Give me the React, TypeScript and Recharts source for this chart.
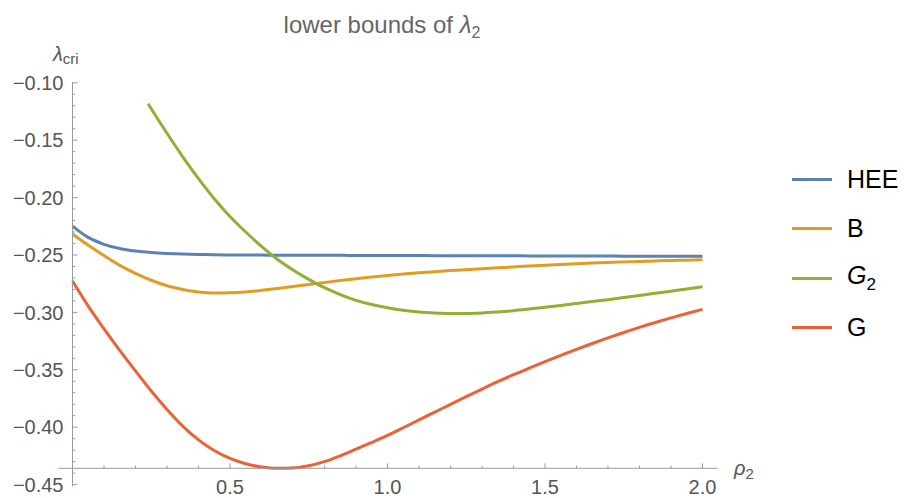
import { LineChart, Line, XAxis, YAxis, Legend, ReferenceLine } from "recharts"

// rho_2 sample points shared by HEE, B and G
const RHO = [
  0, 0.05, 0.1, 0.15, 0.2, 0.25, 0.3, 0.35, 0.4, 0.45, 0.5, 0.55, 0.6, 0.65, 0.7, 0.75, 0.8, 0.85, 0.9, 0.95,
  1.0, 1.05, 1.1, 1.15, 1.2, 1.25, 1.3, 1.35, 1.4, 1.45, 1.5, 1.55, 1.6, 1.65, 1.7, 1.75, 1.8, 1.85, 1.9, 1.95, 2.0,
]

const HEE = [
  -0.2248, -0.2347, -0.2407, -0.2444, -0.2466, -0.2479, -0.2487, -0.2492, -0.2495, -0.2498, -0.25, -0.2501, -0.2501,
  -0.2502, -0.2502, -0.2503, -0.2503, -0.2503, -0.2504, -0.2504, -0.2505, -0.2505, -0.2505, -0.2506, -0.2506, -0.2506,
  -0.2507, -0.2507, -0.2507, -0.2508, -0.2508, -0.2508, -0.2509, -0.2509, -0.2509, -0.251, -0.251, -0.251, -0.2511,
  -0.2511, -0.2512,
]

const B = [
  -0.2317, -0.2415, -0.2505, -0.259, -0.266, -0.272, -0.2768, -0.28, -0.2822, -0.2832, -0.283, -0.2822, -0.2808,
  -0.2792, -0.2775, -0.2757, -0.274, -0.2723, -0.2707, -0.2692, -0.2678, -0.2666, -0.2655, -0.2645, -0.2636, -0.2628,
  -0.262, -0.2612, -0.2604, -0.2596, -0.2589, -0.2582, -0.2576, -0.257, -0.2565, -0.256, -0.2556, -0.2552, -0.2548,
  -0.2545, -0.2542,
]

const G = [
  -0.2726, -0.2945, -0.3143, -0.333, -0.351, -0.3685, -0.3845, -0.399, -0.411, -0.4203, -0.4272, -0.4318, -0.4346,
  -0.4358, -0.4355, -0.4336, -0.43, -0.425, -0.4192, -0.4133, -0.4072, -0.4005, -0.3937, -0.3869, -0.3801, -0.3734,
  -0.3668, -0.3604, -0.3543, -0.3485, -0.3429, -0.3375, -0.3322, -0.3271, -0.3222, -0.3175, -0.313, -0.3088, -0.3048,
  -0.301, -0.2974,
]

// G2 only starts around rho = 0.24
const G2_RHO = [
  0.24, 0.25, 0.3, 0.35, 0.4, 0.45, 0.5, 0.55, 0.6, 0.65, 0.7, 0.75, 0.8, 0.85, 0.9, 0.95, 1.0, 1.05, 1.1, 1.15,
  1.2, 1.25, 1.3, 1.35, 1.4, 1.45, 1.5, 1.55, 1.6, 1.65, 1.7, 1.75, 1.8, 1.85, 1.9, 1.95, 2.0,
]
const G2 = [
  -0.1182, -0.1226, -0.144, -0.1645, -0.1835, -0.201, -0.2165, -0.23, -0.2425, -0.2537, -0.263, -0.2712, -0.2785,
  -0.2845, -0.2895, -0.2932, -0.296, -0.2982, -0.2997, -0.3005, -0.3009, -0.3009, -0.3005, -0.2996, -0.2985, -0.2971,
  -0.2956, -0.294, -0.2923, -0.2906, -0.2889, -0.2871, -0.2853, -0.2834, -0.2815, -0.2796, -0.2777,
]

const SERIES_NAMES = ["HEE", "B", "G2", "G"]
const COLORS = ["#5e81b5", "#e19c24", "#8fb032", "#eb6235"]

const X_MAJOR = [0.5, 1.0, 1.5, 2.0]
const X_MINOR = [0.1, 0.2, 0.3, 0.4, 0.6, 0.7, 0.8, 0.9, 1.1, 1.2, 1.3, 1.4, 1.6, 1.7, 1.8, 1.9]
const Y_MAJOR = [-0.45, -0.4, -0.35, -0.3, -0.25, -0.2, -0.15, -0.1]

// minor y ticks every 0.01 between the majors
const Y_MINOR: number[] = []
for (let k = -45; k <= -10; k++) {
  if (k % 5 !== 0) Y_MINOR.push(k / 100)
}

const X_DOMAIN = [0, 2.048]
const Y_DOMAIN = [-0.4358, -0.0995]
const X_AXIS_START = -0.045
const Y_AXIS_END = -0.4515

const AXIS = "#9a9a9a"
const LABEL = "#555555"
const FONT = "'Liberation Sans', Arial, Helvetica, sans-serif"

const toRows = (xs: number[], ys: number[]) => xs.map((rho, i) => ({ rho, v: ys[i] }))

const series = [
  { name: SERIES_NAMES[0], color: COLORS[0], data: toRows(RHO, HEE) },
  { name: SERIES_NAMES[1], color: COLORS[1], data: toRows(RHO, B) },
  { name: SERIES_NAMES[2], color: COLORS[2], data: toRows(G2_RHO, G2) },
  { name: SERIES_NAMES[3], color: COLORS[3], data: toRows(RHO, G) },
]

const XTick = (props: any) => {
  const { x, y, payload } = props
  const major = X_MAJOR.includes(payload.value)
  return (
    <g>
      <line x1={x} x2={x} y1={y} y2={y - (major ? 5 : 2.7)} stroke={AXIS} />
      {major && (
        <text x={x} y={y + 26} textAnchor="middle" fontSize={20} fill={LABEL} fontFamily={FONT}>
          {payload.value.toFixed(1)}
        </text>
      )}
    </g>
  )
}

const YTick = (props: any) => {
  const { x, y, payload } = props
  const major = Y_MAJOR.some((m) => Math.abs(m - payload.value) < 1e-9)
  return (
    <g>
      <line x1={x} x2={x + (major ? 5 : 2.7)} y1={y} y2={y} stroke={AXIS} />
      {major && (
        <text x={x - 9} y={y} dy="0.36em" textAnchor="end" fontSize={20} fill={LABEL} fontFamily={FONT}>
          {"\u2212" + Math.abs(payload.value).toFixed(2)}
        </text>
      )}
    </g>
  )
}

const legendLabel = (name: string) => {
  if (name === "G2") {
    return (
      <span>
        <i>G</i>
        <sub style={{ fontSize: 17 }}>2</sub>
      </span>
    )
  }
  return <span>{name}</span>
}

// keep the legend in plotting order rather than alphabetical
const renderLegend = ({ payload }: any) => {
  const items = [...(payload || [])].sort(
    (a: any, b: any) => SERIES_NAMES.indexOf(a.value) - SERIES_NAMES.indexOf(b.value)
  )
  return (
    <div>
      {items.map((entry: any) => (
        <div key={entry.value} style={{ display: "flex", alignItems: "center", height: 49.5 }}>
          <span style={{ display: "inline-block", width: 40, height: 3, background: entry.color }} />
          <span style={{ marginLeft: 15, fontSize: 25, color: "#000", fontFamily: FONT, lineHeight: 1 }}>
            {legendLabel(entry.value)}
          </span>
        </div>
      ))}
    </div>
  )
}

export default function App() {
  return (
    <div style={{ position: "absolute", left: 0, top: 0, width: 904, height: 498, background: "#fff", fontFamily: FONT }}>
      <LineChart width={904} height={498} margin={{ top: 82.2, right: 186.4, bottom: 9.7, left: 12.5 }}>
        <XAxis
          type="number"
          dataKey="rho"
          domain={X_DOMAIN}
          ticks={[...X_MINOR, ...X_MAJOR].sort((a, b) => a - b)}
          interval={0}
          height={20}
          tickSize={0}
          tickMargin={0}
          tickLine={false}
          axisLine={{ stroke: AXIS }}
          tick={(p: any) => <XTick {...p} />}
        />
        <YAxis
          type="number"
          domain={Y_DOMAIN}
          ticks={[...Y_MINOR, ...Y_MAJOR].sort((a, b) => a - b)}
          interval={0}
          width={60}
          tickSize={0}
          tickMargin={0}
          tickLine={false}
          axisLine={{ stroke: AXIS }}
          tick={(p: any) => <YTick {...p} />}
        />
        {/* axis pieces Mathematica draws past the crossing point */}
        <ReferenceLine
          segment={[
            { x: X_AXIS_START, y: Y_DOMAIN[0] },
            { x: 0, y: Y_DOMAIN[0] },
          ]}
          ifOverflow="visible"
          stroke={AXIS}
        />
        <ReferenceLine
          segment={[
            { x: 0, y: Y_DOMAIN[0] },
            { x: 0, y: Y_AXIS_END },
          ]}
          ifOverflow="visible"
          stroke={AXIS}
        />
        {series.map((s) => (
          <Line
            key={s.name}
            data={s.data}
            dataKey="v"
            name={s.name}
            type="monotone"
            stroke={s.color}
            strokeWidth={3}
            dot={false}
            activeDot={false}
            isAnimationActive={false}
          />
        ))}
        <Legend
          layout="horizontal"
          align="center"
          verticalAlign="middle"
          wrapperStyle={{ position: "absolute", left: 792, top: 154.5, width: 112 }}
          content={renderLegend}
        />
      </LineChart>
      <svg
        width={904}
        height={498}
        style={{ position: "absolute", left: 0, top: 0, pointerEvents: "none" }}
        fontFamily={FONT}
      >
        <text x={382} y={33} textAnchor="middle" fontSize={24} fill="#666">
          lower bounds of <tspan fontStyle="italic">λ</tspan>
          <tspan fontSize={16} dy={5}>
            2
          </tspan>
        </text>
        <text x={53} y={61} fontSize={20} fill={LABEL}>
          <tspan fontStyle="italic">λ</tspan>
          <tspan fontSize={15} dy={3}>
            cri
          </tspan>
        </text>
        <text x={734} y={475} fontSize={20} fill={LABEL}>
          <tspan fontStyle="italic">ρ</tspan>
          <tspan fontSize={15} dy={4}>
            2
          </tspan>
        </text>
      </svg>
    </div>
  )
}
